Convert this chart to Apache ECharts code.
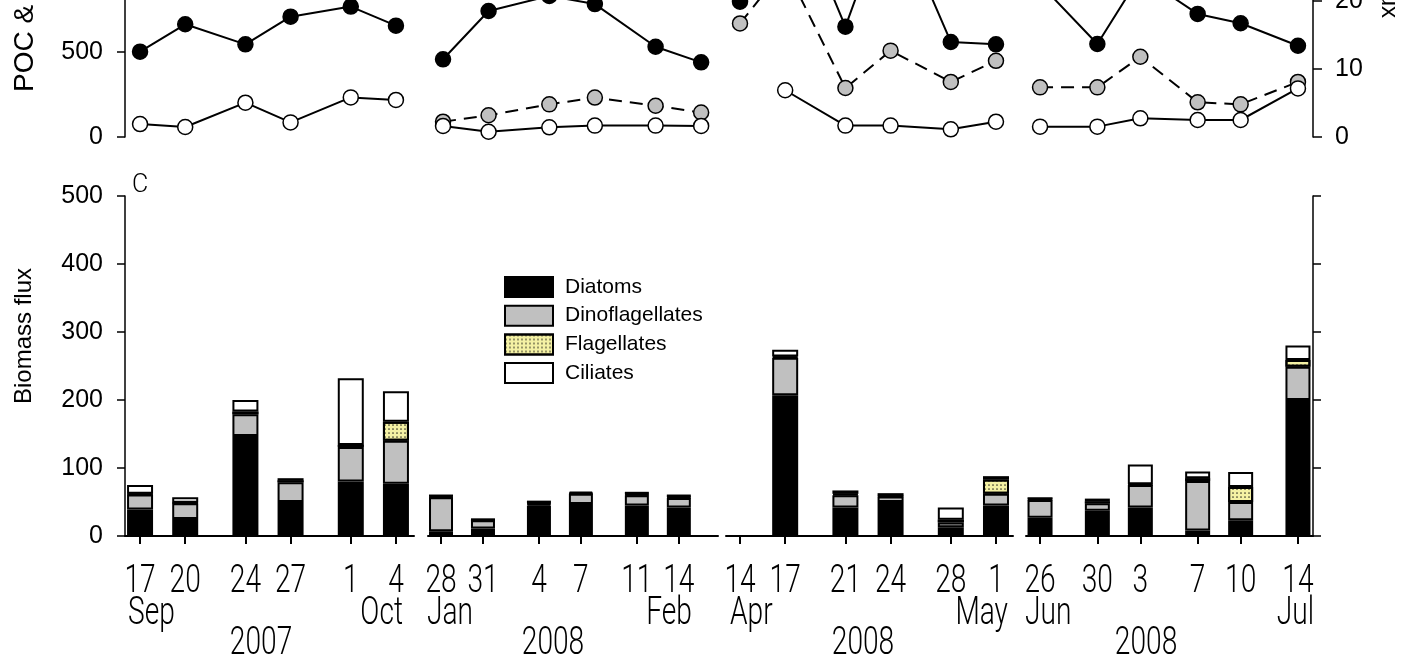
<!DOCTYPE html>
<html>
<head>
<meta charset="utf-8">
<script src="https://cdn.jsdelivr.net/npm/echarts@6/dist/echarts.min.js"></script>
<style>
  html, body { margin: 0; padding: 0; background: #fff; }
  #chart { width: 1404px; height: 659px; }
</style>
</head>
<body>
<div id="chart"></div>
<script>
// ---- Sampling dates (four cruises, six stations each) ----
const sampleDates = [
  '2007-09-17', '2007-09-20', '2007-09-24', '2007-09-27', '2007-10-01', '2007-10-04',
  '2008-01-28', '2008-01-31', '2008-02-04', '2008-02-07', '2008-02-11', '2008-02-14',
  '2008-04-14', '2008-04-17', '2008-04-21', '2008-04-24', '2008-04-28', '2008-05-01',
  '2008-06-26', '2008-06-30', '2008-07-03', '2008-07-07', '2008-07-10', '2008-07-14'
];
const cruiseOf = [0, 0, 0, 0, 0, 0, 1, 1, 1, 1, 1, 1, 2, 2, 2, 2, 2, 2, 3, 3, 3, 3, 3, 3];
const cruiseMonths = [['Sep', 'Oct'], ['Jan', 'Feb'], ['Apr', 'May'], ['Jun', 'Jul']];
const cruiseYears = ['2007', '2008', '2008', '2008'];

// ---- Upper panel: POC & PON flux (left axis) and pigment flux (right axis) ----
const pocFlux = [502, 663, 545, 708, 767, 655,
                 457, 741, 830, 782, 531, 439,
                 796, 1500, 649, 1380, 559, 545,
                 900, 547, 950, 724, 669, 537];
const ponFlux = [76, 59, 202, 86, 233, 218,
                 65, 31, 57, 67, 67, 65,
                 null, 275, 67, 67, 45, 90,
                 61, 61, 110, 100, 100, 286];
const chlFlux = [null, null, null, null, null, null,
                 2.25, 3.2, 4.8, 5.8, 4.6, 3.6,
                 16.7, 25, 7.2, 12.7, 8.1, 11.2,
                 7.3, 7.3, 11.8, 5.1, 4.8, 8.1];

// ---- Lower panel: biomass flux by plankton group ----
const diatoms =         [39, 25, 147, 50, 80, 77,  7, 11, 45, 47, 45, 42,  null, 207, 42, 50, 13, 45,  27, 37, 42, 8, 23, 200];
const dinoflagellates = [22, 23, 32, 29, 51, 63,  50, 12, 2, 15, 15, 14,  null, 55, 18, 8, 7, 17,  26, 11, 33, 73, 27, 49];
const flagellates =     [1, 1, 4, 3, 3, 28,  1, 0, 1, 1, 1, 1,  null, 2, 2, 1, 4, 21,  1, 3, 1, 4, 22, 10];
const ciliates =        [13, 8, 17, 3, 98, 45,  3, 3, 4, 2, 4, 4,  null, 10, 5, 4, 18, 5,  3, 4, 29, 10, 22, 21];

const yTicksBiomass = { min: 0, max: 500, interval: 100 };
const yTicksPoc = { min: 0, max: 1500, interval: 500 };
const yTicksChl = { min: 0, max: 37.5, interval: 10 };

// ---- Layout of the broken time axis (one block per cruise) ----
const segLayout = [
  { left: 125,  width: 289, barWidth: 26, padBottom: [1.0, 1.2],   padTop: [1.0, 1.2] },
  { left: 428,  width: 290, barWidth: 24, padBottom: [0.93, 2.8],  padTop: [0.99, 1.11] },
  { left: 726,  width: 287, barWidth: 26, padBottom: [0.93, 1.13], padTop: [0.93, 1.13] },
  { left: 1026, width: 287, barWidth: 25, padBottom: [0.98, 1.05], padTop: [0.98, 1.05] }
];
const monthLeftShift = [-12, -14, -10, -15];
const monthRightShift = [7, 13, 12, 16];
const yearShift = [121, 112, 123, 106];

const TOP_ZERO = 137, TOP_H = 255;       // upper panel
const BOT_TOP = 196, BOT_H = 340;        // lower panel

const DAY = 86400000;
const toTime = s => Date.UTC(+s.slice(0, 4), +s.slice(5, 7) - 1, +s.slice(8, 10));
const dayOfMonth = t => new Date(t).getUTCDate();

const numFont = 'Liberation Sans, Arial, sans-serif';
const dateFont = "300 38px Roboto, 'Open Sans', sans-serif";
const dateScaleX = 0.74;

const cruiseIdx = [0, 1, 2, 3].map(c => sampleDates.map((d, i) => i).filter(i => cruiseOf[i] === c));
const cruiseTimes = cruiseIdx.map(ix => ix.map(i => toTime(sampleDates[i])));

const grid = [], xAxis = [], yAxis = [], series = [];
const gridBase = { outerBoundsMode: 'none', containLabel: false };

// upper grids 0..3, lower grids 4..7
segLayout.forEach(L => grid.push({ ...gridBase, left: L.left, width: L.width, top: TOP_ZERO - TOP_H, height: TOP_H }));
segLayout.forEach(L => grid.push({ ...gridBase, left: L.left, width: L.width, top: BOT_TOP, height: BOT_H }));

// x axes (time)
segLayout.forEach((L, c) => {
  const t = cruiseTimes[c];
  xAxis.push({
    gridIndex: c, type: 'time', show: false,
    min: t[0] - L.padTop[0] * DAY, max: t[t.length - 1] + L.padTop[1] * DAY
  });
});
segLayout.forEach((L, c) => {
  const t = cruiseTimes[c];
  const lo = t[0] - L.padBottom[0] * DAY, hi = t[t.length - 1] + L.padBottom[1] * DAY;
  // a bar axis is widened by half a bar on each side; pull the limits in by the same amount
  const inset = (L.barWidth / 2) * (hi - lo) / L.width;
  xAxis.push({
    gridIndex: 4 + c, type: 'time',
    min: lo + inset, max: hi - inset,
    axisLine: { show: true, onZero: false, lineStyle: { color: '#000', width: 2 } },
    axisTick: { show: true, customValues: t, length: 8, lineStyle: { color: '#000', width: 2 } },
    axisLabel: { show: false },
    splitLine: { show: false }
  });
});

// y axes: 0..3 upper-left, 4..7 upper-right, 8..11 lower-left, 12 lower-right
const axisLineStyle = { color: '#000', width: 1.5 };
const tickLabel = { margin: 22, fontFamily: numFont, fontSize: 25, color: '#000', formatter: v => String(v) };
segLayout.forEach((L, c) => {
  yAxis.push({
    gridIndex: c, type: 'value', position: 'left', show: c === 0,
    ...yTicksPoc,
    name: 'POC & PON flux', nameLocation: 'middle', nameGap: 86,
    nameTextStyle: { fontFamily: numFont, fontSize: 28, color: '#000', padding: [0, 0, 0, 42] },
    axisLine: { show: true, lineStyle: axisLineStyle },
    axisTick: { show: true, length: 8, lineStyle: axisLineStyle },
    axisLabel: tickLabel,
    splitLine: { show: false }
  });
});
segLayout.forEach((L, c) => {
  yAxis.push({
    gridIndex: c, type: 'value', position: 'right', show: c === 3,
    ...yTicksChl,
    name: 'Chl a flux', nameLocation: 'middle', nameGap: 64, nameRotate: -90, nameMoveOverlap: false,
    nameTextStyle: { fontFamily: numFont, fontSize: 24, color: '#000', padding: [0, 83, 0, 0] },
    axisLine: { show: true, lineStyle: axisLineStyle },
    axisTick: { show: true, length: 9, lineStyle: axisLineStyle },
    axisLabel: tickLabel,
    splitLine: { show: false }
  });
});
segLayout.forEach((L, c) => {
  yAxis.push({
    gridIndex: 4 + c, type: 'value', position: 'left', show: c === 0,
    ...yTicksBiomass,
    name: 'Biomass flux', nameLocation: 'middle', nameGap: 89,
    nameTextStyle: { fontFamily: numFont, fontSize: 24, color: '#000', padding: [0, 0, 0, 60] },
    axisLine: { show: true, lineStyle: axisLineStyle },
    axisTick: { show: true, length: 8, lineStyle: axisLineStyle },
    axisLabel: tickLabel,
    splitLine: { show: false }
  });
});
yAxis.push({
  gridIndex: 7, type: 'value', position: 'right', ...yTicksBiomass,
  axisLine: { show: true, lineStyle: axisLineStyle },
  axisTick: { show: true, length: 8, lineStyle: axisLineStyle },
  axisLabel: { show: false },
  splitLine: { show: false }
});

// ---- stacked bars ----
const groups = [
  { name: 'Diatoms', values: diatoms, color: '#000000' },
  { name: 'Dinoflagellates', values: dinoflagellates, color: '#c0c0c0' },
  { name: 'Flagellates', values: flagellates, color: '#f4f1a4',
    decal: { symbol: 'circle', symbolSize: 0.85, dashArrayX: [2, 2], dashArrayY: [2, 2], color: 'rgba(40,40,30,0.9)' } },
  { name: 'Ciliates', values: ciliates, color: '#ffffff' }
];
segLayout.forEach((L, c) => {
  groups.forEach(g => {
    series.push({
      type: 'bar', name: g.name, xAxisIndex: 4 + c, yAxisIndex: 8 + c,
      stack: 'cruise' + c, barWidth: L.barWidth,
      data: cruiseIdx[c].map(i => [toTime(sampleDates[i]), g.values[i]]),
      itemStyle: { color: g.color, borderColor: '#000', borderWidth: 2, decal: g.decal },
      emphasis: { disabled: true }
    });
  });
});

// ---- upper panel lines ----
const lineDefs = [
  { name: 'POC', values: pocFlux, axis: 0, fill: '#000000', dash: 'solid' },
  { name: 'Chl a', values: chlFlux, axis: 4, fill: '#c0c0c0', dash: [13, 8] },
  { name: 'PON', values: ponFlux, axis: 0, fill: '#ffffff', dash: 'solid' }
];
segLayout.forEach((L, c) => {
  lineDefs.forEach((s, k) => {
    const data = cruiseIdx[c].map(i => [toTime(sampleDates[i]), s.values[i]]);
    if (data.every(p => p[1] == null)) return;
    series.push({
      type: 'line', name: s.name, xAxisIndex: c, yAxisIndex: s.axis + c,
      data, z: 3 + k,
      symbol: 'circle', symbolSize: 15, showAllSymbol: true,
      itemStyle: { color: s.fill, borderColor: '#000', borderWidth: 1.5 },
      lineStyle: { color: '#000', width: 2, type: s.dash },
      emphasis: { disabled: true }
    });
  });
});

const chart = echarts.init(document.getElementById('chart'));
chart.setOption({
  animation: false,
  useUTC: true,
  backgroundColor: '#fff',
  grid, xAxis, yAxis, series,
  legend: {
    data: groups.map(g => g.name),
    orient: 'vertical', left: 499, top: 271,
    icon: 'rect', itemWidth: 48, itemHeight: 20, itemGap: 6.7,
    textStyle: { fontFamily: numFont, fontSize: 21, color: '#000', padding: [0, 0, 0, 7] },
    selectedMode: false
  }
});

// date labels (day, month, year) placed through the time scales
const baseY = chart.convertToPixel({ yAxisIndex: 8 }, 0);
const annot = [];
const dateText = (x, y, text, align) => ({
  type: 'text', x, y, scaleX: dateScaleX, silent: true,
  style: { text, font: dateFont, fill: '#000', textAlign: align, textVerticalAlign: 'middle' }
});
cruiseTimes.forEach((t, c) => {
  const px = t.map(v => chart.convertToPixel({ xAxisIndex: 4 + c }, v));
  px.forEach((x, k) => annot.push(dateText(x, baseY + 46, String(dayOfMonth(t[k])), 'center')));
  annot.push(dateText(px[0] + monthLeftShift[c], baseY + 78, cruiseMonths[c][0], 'left'));
  annot.push(dateText(px[px.length - 1] + monthRightShift[c], baseY + 78, cruiseMonths[c][1], 'right'));
  annot.push(dateText(px[0] + yearShift[c], baseY + 108, cruiseYears[c], 'center'));
});
annot.push({ type: 'text', x: 132, y: 186, silent: true,
  style: { text: 'C', font: "300 25px Roboto, 'Open Sans', sans-serif", fill: '#000', textAlign: 'left', textVerticalAlign: 'middle' } });
chart.setOption({ graphic: annot });
</script>
</body>
</html>
